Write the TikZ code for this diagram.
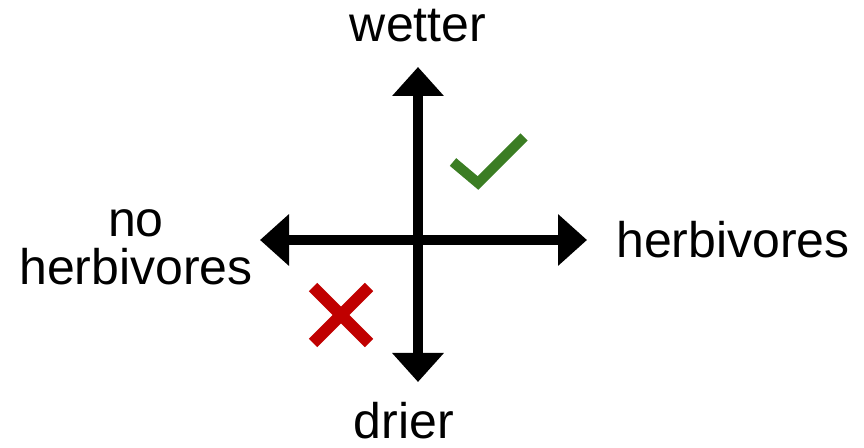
\documentclass[tikz,border=0pt]{standalone}
\usepackage{fontspec}
\setmainfont{Liberation Sans}
\usetikzlibrary{arrows.meta}
\definecolor{okgreen}{HTML}{3B7D23}
\definecolor{nored}{HTML}{C00000}
\begin{document}
\begin{tikzpicture}[x=1pt,y=1pt,
  axis/.style={line width=10pt,
    {Triangle[width=50pt,length=29pt]}-{Triangle[width=50pt,length=29pt]}},
  label/.style={font=\fontsize{50}{48}\selectfont, inner sep=0pt, anchor=base, align=center},
  tick/.style={okgreen, line width=10pt, line join=miter},
  cross/.style={nored, line width=12pt}]
\useasboundingbox (0,0) rectangle (864,447);

% axis end points
\coordinate (top) at (418,380);
\coordinate (bottom) at (418,65);
\coordinate (left) at (260,207);
\coordinate (right) at (587,207);

\draw[axis] (bottom) -- (top);
\draw[axis] (left) -- (right);

% axis labels (base anchor of a two-line node sits on its last line)
\node[label] (wet) at (418,405) {wetter};
\node[label] (dry) at (404,9) {drier};
\node[label, anchor=base west] (herb) at (616,189) {herbivores};
\node[label] (noherb) at (136,162) {no\\herbivores};

% quadrant marks
\coordinate (t1) at (453,285);
\coordinate (t2) at (478,264);
\coordinate (t3) at (524,310);
\draw[tick] (t1) -- (t2) -- (t3);

\coordinate (x1) at (313,160);
\coordinate (x2) at (369,104);
\coordinate (x3) at (313,104);
\coordinate (x4) at (369,160);
\draw[cross] (x1) -- (x2);
\draw[cross] (x3) -- (x4);
\end{tikzpicture}
\end{document}
